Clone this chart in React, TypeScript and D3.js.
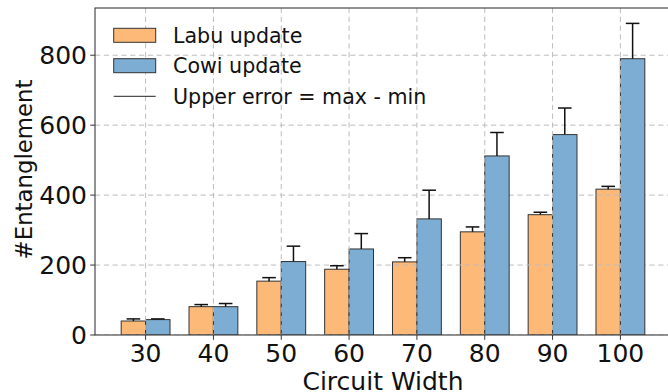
import React from "react";
import * as d3 from "d3";

const categories = ["30", "40", "50", "60", "70", "80", "90", "100"];
const labuMean = [40, 81, 154, 188, 209, 295, 344, 417];
const labuUpper = [46, 87, 164, 198, 221, 309, 351, 425];
const cowiMean = [44, 81, 210, 246, 332, 512, 573, 790];
const cowiUpper = [46, 90, 254, 290, 414, 579, 649, 891];
const yTicks = [0, 200, 400, 600, 800];

const W = 668;
const H = 392;
const left = 95;
const right = 671;
const top = 8;
const bottom = 335;
const barW = 0.36;

const orange = "#fdb978";
const blue = "#7eadd3";
const edge = "#333333";
const gridColor = "#bdbdbd";
const font = "DejaVu Sans, sans-serif";

export default function App() {
  const x = d3.scaleLinear().domain([-0.746, categories.length - 1 + 0.746]).range([left, right]);
  const y = d3.scaleLinear().domain([0, 935]).range([bottom, top]);
  const idx = categories.map((_, i) => i);
  const capHalf = 6.8;

  return (
    <div style={{ position: "fixed", left: 0, top: 0 }}>
      <svg width={W} height={H} style={{ display: "block", background: "#fff" }}>
        <defs>
          <clipPath id="plot">
            <rect x={left} y={top} width={right - left} height={bottom - top} />
          </clipPath>
        </defs>
        <g clipPath="url(#plot)">
          {idx.map((i) => (
            <rect
              key={"o" + i}
              x={x(i - barW)}
              y={y(labuMean[i])}
              width={x(barW) - x(0)}
              height={y(0) - y(labuMean[i])}
              fill={orange}
              stroke={edge}
              strokeWidth={1}
            />
          ))}
          {yTicks.map((t) => (
            <line
              key={"hg" + t}
              x1={left}
              x2={right}
              y1={y(t)}
              y2={y(t)}
              stroke={gridColor}
              strokeWidth={1}
              strokeDasharray="5.2,3.6"
            />
          ))}
          {idx.map((i) => (
            <rect
              key={"b" + i}
              x={x(i)}
              y={y(cowiMean[i])}
              width={x(barW) - x(0)}
              height={y(0) - y(cowiMean[i])}
              fill={blue}
              stroke={edge}
              strokeWidth={1}
            />
          ))}
          {idx.map((i) => (
            <line
              key={"vg" + i}
              x1={x(i)}
              x2={x(i)}
              y1={top}
              y2={bottom}
              stroke={gridColor}
              strokeWidth={1}
              strokeDasharray="5.2,3.6"
            />
          ))}
          {idx.map((i) => {
            const cxo = x(i - barW / 2);
            const cxb = x(i + barW / 2);
            return (
              <g key={"e" + i} stroke="#111" strokeWidth={1.5}>
                <line x1={cxo} x2={cxo} y1={y(labuMean[i])} y2={y(labuUpper[i])} />
                <line x1={cxo - capHalf} x2={cxo + capHalf} y1={y(labuUpper[i])} y2={y(labuUpper[i])} />
                <line x1={cxb} x2={cxb} y1={y(cowiMean[i])} y2={y(cowiUpper[i])} />
                <line x1={cxb - capHalf} x2={cxb + capHalf} y1={y(cowiUpper[i])} y2={y(cowiUpper[i])} />
              </g>
            );
          })}
        </g>
        {/* spines */}
        <rect x={left} y={top} width={right - left} height={bottom - top} fill="none" stroke="#3a3a3a" strokeWidth={1.1} />
        {/* y ticks */}
        {yTicks.map((t) => (
          <g key={"yt" + t}>
            <line x1={left - 4.8} x2={left} y1={y(t)} y2={y(t)} stroke="#333" strokeWidth={1} />
            <text x={left - 8} y={y(t)} dy="0.36em" textAnchor="end" fontFamily={font} fontSize={25} fill="#111">
              {t}
            </text>
          </g>
        ))}
        {/* x ticks */}
        {idx.map((i) => (
          <g key={"xt" + i}>
            <line x1={x(i)} x2={x(i)} y1={bottom} y2={bottom + 4.8} stroke="#333" strokeWidth={1} />
            <text x={x(i)} y={362.3} textAnchor="middle" fontFamily={font} fontSize={25} fill="#111">
              {categories[i]}
            </text>
          </g>
        ))}
        <text x={383} y={390} textAnchor="middle" fontFamily={font} fontSize={25} fill="#111">
          Circuit Width
        </text>
        <text
          transform={`translate(31.5,169.5) rotate(-90)`}
          textAnchor="middle"
          fontFamily={font}
          fontSize={22.8}
          fill="#111"
        >
          #Entanglement
        </text>
        {/* legend */}
        <g fontFamily={font} fontSize={20.6} fill="#111">
          <rect x={113.7} y={28.3} width={42} height={14} fill={orange} stroke={edge} strokeWidth={1} />
          <text x={173} y={42.7}>Labu update</text>
          <rect x={113.7} y={58.7} width={42} height={14} fill={blue} stroke={edge} strokeWidth={1} />
          <text x={173} y={73}>Cowi update</text>
          <line x1={113.7} x2={155.7} y1={96.3} y2={96.3} stroke="#222" strokeWidth={1} />
          <text x={173} y={103.5}>Upper error = max - min</text>
        </g>
      </svg>
    </div>
  );
}
